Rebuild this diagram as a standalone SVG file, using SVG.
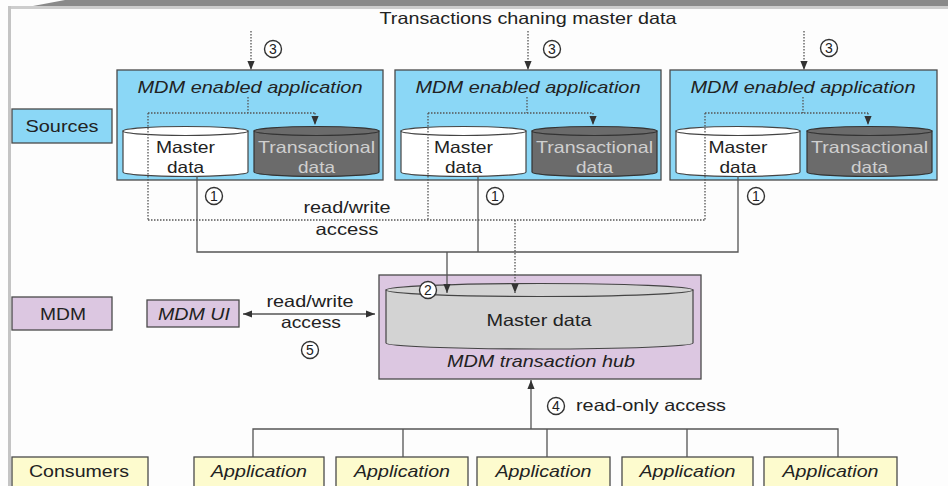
<svg xmlns="http://www.w3.org/2000/svg" width="948" height="486" viewBox="0 0 948 486">
<defs>
<style>
.t{font-family:"Liberation Sans",Arial,sans-serif;font-size:16.5px;fill:#222;text-anchor:middle}
.i{font-style:italic}
.box{stroke:#4a4a4a;stroke-width:1.3}
.src{fill:#8bd7f6}
.mdm{fill:#dcc7e1}
.con{fill:#fdfbce}
.cylw{fill:#fff;stroke:#444;stroke-width:1.2}
.cyld{fill:#6b6b6b;stroke:#333;stroke-width:1.2}
.cylg{fill:#d3d3d3;stroke:#444;stroke-width:1.2}
.solid{fill:none;stroke:#555;stroke-width:1.3}
.dot{fill:none;stroke:#555;stroke-width:1.3;stroke-dasharray:1.5 1.5}
.num circle{fill:#fff;stroke:#333;stroke-width:1.4}
.num text{font-family:"Liberation Sans",Arial,sans-serif;font-size:14px;fill:#222;text-anchor:middle}
</style>
<marker id="ah" viewBox="0 0 10 10" refX="10" refY="5" markerWidth="9" markerHeight="9" markerUnits="userSpaceOnUse" orient="auto-start-reverse">
<path d="M0,1 L10,5 L0,9 Z" fill="#333"/>
</marker>
</defs>

<g id="frame">
<rect x="0" y="0" width="948" height="486" fill="#fdfdfd"/>
<polygon points="33,6 65,0 948,0 948,6" fill="#8a8a8a"/>
<rect x="8" y="6" width="940" height="3" fill="#cdcdcd"/>
<rect x="8" y="6" width="3" height="480" fill="#c4c4c4"/>
</g>

<text class="t" x="528" y="24" textLength="297" lengthAdjust="spacingAndGlyphs">Transactions chaning master data</text>

<g id="sources-label">
<rect class="box src" x="12" y="109" width="100" height="34"/>
<text class="t" x="62" y="132" textLength="73" lengthAdjust="spacingAndGlyphs">Sources</text>
</g>

<g id="app1" transform="translate(117,0)">
<rect class="box src" x="0" y="70" width="266" height="110"/>
<text class="t i" x="133" y="93" textLength="225" lengthAdjust="spacingAndGlyphs">MDM enabled application</text>
<path class="cylw" d="M6,131 V172 A62.5,4.5 0 0 0 131,172 V131 Z"/>
<ellipse class="cylw" cx="68.5" cy="131" rx="62.5" ry="4.5"/>
<text class="t" x="68.5" y="153" textLength="59" lengthAdjust="spacingAndGlyphs">Master</text>
<text class="t" x="68.5" y="173" textLength="37" lengthAdjust="spacingAndGlyphs">data</text>
<path class="cyld" d="M137,131 V172 A62.5,4.5 0 0 0 262,172 V131 Z"/>
<ellipse class="cyld" cx="199.5" cy="131" rx="62.5" ry="4.5"/>
<text class="t" x="199.5" y="153" style="fill:#cfcfcf" textLength="117" lengthAdjust="spacingAndGlyphs">Transactional</text>
<text class="t" x="199.5" y="173" style="fill:#cfcfcf" textLength="37" lengthAdjust="spacingAndGlyphs">data</text>
</g>

<g id="app2" transform="translate(395,0)">
<rect class="box src" x="0" y="70" width="266" height="110"/>
<text class="t i" x="133" y="93" textLength="225" lengthAdjust="spacingAndGlyphs">MDM enabled application</text>
<path class="cylw" d="M6,131 V172 A62.5,4.5 0 0 0 131,172 V131 Z"/>
<ellipse class="cylw" cx="68.5" cy="131" rx="62.5" ry="4.5"/>
<text class="t" x="68.5" y="153" textLength="59" lengthAdjust="spacingAndGlyphs">Master</text>
<text class="t" x="68.5" y="173" textLength="37" lengthAdjust="spacingAndGlyphs">data</text>
<path class="cyld" d="M137,131 V172 A62.5,4.5 0 0 0 262,172 V131 Z"/>
<ellipse class="cyld" cx="199.5" cy="131" rx="62.5" ry="4.5"/>
<text class="t" x="199.5" y="153" style="fill:#cfcfcf" textLength="117" lengthAdjust="spacingAndGlyphs">Transactional</text>
<text class="t" x="199.5" y="173" style="fill:#cfcfcf" textLength="37" lengthAdjust="spacingAndGlyphs">data</text>
</g>

<g id="app3" transform="translate(670,0)">
<rect class="box src" x="0" y="70" width="267" height="110"/>
<text class="t i" x="133" y="93" textLength="225" lengthAdjust="spacingAndGlyphs">MDM enabled application</text>
<path class="cylw" d="M6,131 V172 A62,4.5 0 0 0 130,172 V131 Z"/>
<ellipse class="cylw" cx="68" cy="131" rx="62" ry="4.5"/>
<text class="t" x="68" y="153" textLength="59" lengthAdjust="spacingAndGlyphs">Master</text>
<text class="t" x="68" y="173" textLength="37" lengthAdjust="spacingAndGlyphs">data</text>
<path class="cyld" d="M137,131 V172 A62.5,4.5 0 0 0 262,172 V131 Z"/>
<ellipse class="cyld" cx="199.5" cy="131" rx="62.5" ry="4.5"/>
<text class="t" x="199.5" y="153" style="fill:#cfcfcf" textLength="117" lengthAdjust="spacingAndGlyphs">Transactional</text>
<text class="t" x="199.5" y="173" style="fill:#cfcfcf" textLength="37" lengthAdjust="spacingAndGlyphs">data</text>
</g>

<g id="mdm-label">
<rect class="box mdm" x="12" y="297" width="100" height="33"/>
<text class="t" x="63" y="320" textLength="46" lengthAdjust="spacingAndGlyphs">MDM</text>
</g>

<g id="mdm-ui">
<rect class="box mdm" x="147" y="300" width="92" height="27"/>
<text class="t i" x="194" y="320" textLength="72" lengthAdjust="spacingAndGlyphs">MDM UI</text>
</g>

<g id="hub">
<rect class="box mdm" x="379" y="275" width="322" height="104"/>
<path class="cylg" d="M386,290 V343 A153.5,6 0 0 0 693,343 V290 Z"/>
<ellipse class="cylg" cx="539.5" cy="290" rx="153.5" ry="6.5"/>
<text class="t" x="539" y="326" textLength="105" lengthAdjust="spacingAndGlyphs">Master data</text>
<text class="t i" x="541" y="367" textLength="188" lengthAdjust="spacingAndGlyphs">MDM transaction hub</text>
</g>

<g id="consumers-label">
<rect class="box con" x="12" y="457" width="136" height="35"/>
<text class="t" x="79" y="477" textLength="100" lengthAdjust="spacingAndGlyphs">Consumers</text>
</g>
<g id="consumer1"><rect class="box con" x="194" y="457" width="130" height="35"/><text class="t i" x="259" y="477" textLength="96" lengthAdjust="spacingAndGlyphs">Application</text></g>
<g id="consumer2"><rect class="box con" x="336" y="457" width="132" height="35"/><text class="t i" x="402" y="477" textLength="96" lengthAdjust="spacingAndGlyphs">Application</text></g>
<g id="consumer3"><rect class="box con" x="477" y="457" width="133" height="35"/><text class="t i" x="543.5" y="477" textLength="96" lengthAdjust="spacingAndGlyphs">Application</text></g>
<g id="consumer4"><rect class="box con" x="622" y="457" width="131" height="35"/><text class="t i" x="687.5" y="477" textLength="96" lengthAdjust="spacingAndGlyphs">Application</text></g>
<g id="consumer5"><rect class="box con" x="764" y="457" width="133" height="35"/><text class="t i" x="830.5" y="477" textLength="96" lengthAdjust="spacingAndGlyphs">Application</text></g>

<g id="connectors">
<path class="dot" d="M251,31 V70" marker-end="url(#ah)"/>
<path class="dot" d="M528,31 V70" marker-end="url(#ah)"/>
<path class="dot" d="M804,31 V70" marker-end="url(#ah)"/>
<path class="dot" d="M248,97 V113 M148,113 H315 M148,113 V220"/>
<path class="dot" d="M315,113 V125" marker-end="url(#ah)"/>
<path class="dot" d="M527,97 V113 M428,113 H593 M428,113 V220"/>
<path class="dot" d="M593,113 V125" marker-end="url(#ah)"/>
<path class="dot" d="M803,97 V113 M705,113 H868 M705,113 V220"/>
<path class="dot" d="M868,113 V125" marker-end="url(#ah)"/>
<path class="dot" d="M148,220 H705"/>
<path class="dot" d="M515,220 V293" marker-end="url(#ah)"/>
<path class="solid" d="M197,176 V252 H738 V176 M478,176 V252"/>
<path class="solid" d="M447,252 V293" marker-end="url(#ah)"/>
<path class="solid" d="M243,314 H375" marker-start="url(#ah)" marker-end="url(#ah)"/>
<path class="solid" d="M531,429 V380" marker-end="url(#ah)"/>
<path class="solid" d="M253,457 V429 H838 V457 M403,429 V457 M547,429 V457 M687,429 V457"/>
<text class="t" x="347" y="213" textLength="87" lengthAdjust="spacingAndGlyphs">read/write</text>
<text class="t" x="347" y="235" textLength="63" lengthAdjust="spacingAndGlyphs">access</text>
<text class="t" x="310" y="307" textLength="87" lengthAdjust="spacingAndGlyphs">read/write</text>
<text class="t" x="311" y="328" textLength="60" lengthAdjust="spacingAndGlyphs">access</text>
<text class="t" x="576" y="411" style="text-anchor:start" textLength="150" lengthAdjust="spacingAndGlyphs">read-only access</text>
</g>

<g id="markers-numbers" class="num">
<circle cx="273" cy="49" r="8.5"/><text x="273" y="54">3</text>
<circle cx="552" cy="49" r="8.5"/><text x="552" y="54">3</text>
<circle cx="829" cy="48" r="8.5"/><text x="829" y="53">3</text>
<circle cx="214" cy="196" r="8.5"/><text x="214" y="201">1</text>
<circle cx="495" cy="196" r="8.5"/><text x="495" y="201">1</text>
<circle cx="756" cy="196" r="8.5"/><text x="756" y="201">1</text>
<circle cx="428" cy="290" r="8.5"/><text x="428" y="295">2</text>
<circle cx="556" cy="406" r="8.5"/><text x="556" y="411">4</text>
<circle cx="310" cy="350" r="8.5"/><text x="310" y="355">5</text>
</g>
</svg>
